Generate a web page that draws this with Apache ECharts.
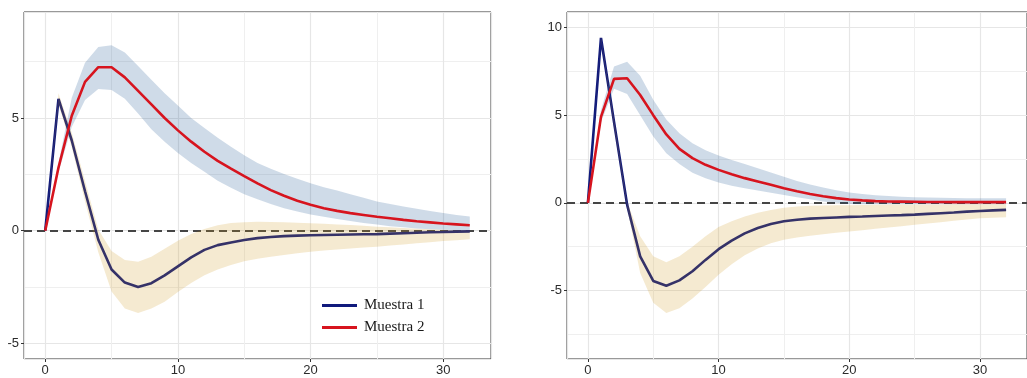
<!DOCTYPE html>
<html>
<head>
<meta charset="utf-8">
<script src="https://cdn.jsdelivr.net/npm/echarts@6/dist/echarts.min.js"></script>
<style>
  html, body { margin: 0; padding: 0; background: #ffffff; }
  #chart { width: 1027px; height: 378px; }
</style>
</head>
<body>
<div id="chart"></div>
<script>
// Horizons 0..32
const steps = [0,1,2,3,4,5,6,7,8,9,10,11,12,13,14,15,16,17,18,19,20,21,22,23,24,25,26,27,28,29,30,31,32];

// Left panel: impulse responses and bands
const m1Left   = [0,5.85,4.0,1.75,-0.4,-1.72,-2.3,-2.5,-2.33,-1.98,-1.58,-1.18,-0.85,-0.64,-0.52,-0.41,-0.33,-0.28,-0.24,-0.22,-0.2,-0.19,-0.18,-0.17,-0.16,-0.15,-0.13,-0.11,-0.09,-0.07,-0.06,-0.04,-0.03];
const m1LeftLo = [0,5.6,3.7,1.3,-0.95,-2.7,-3.45,-3.65,-3.45,-3.15,-2.72,-2.32,-1.98,-1.72,-1.52,-1.36,-1.24,-1.15,-1.08,-1.0,-0.93,-0.88,-0.83,-0.79,-0.75,-0.71,-0.66,-0.61,-0.56,-0.51,-0.46,-0.42,-0.38];
const m1LeftHi = [0,6.1,4.35,2.2,0.05,-0.9,-1.3,-1.38,-1.15,-0.8,-0.45,-0.15,0.08,0.24,0.34,0.38,0.4,0.39,0.37,0.35,0.33,0.31,0.28,0.25,0.22,0.18,0.15,0.12,0.09,0.06,0.04,0.03,0.03];
const m2Left   = [0,2.8,5.1,6.6,7.25,7.25,6.8,6.2,5.6,5.0,4.45,3.95,3.5,3.1,2.75,2.42,2.1,1.8,1.55,1.33,1.15,1.0,0.88,0.78,0.7,0.62,0.55,0.48,0.42,0.37,0.32,0.28,0.24];
const m2LeftLo = [0,2.6,4.6,5.8,6.28,6.24,5.85,5.2,4.5,3.95,3.45,3.0,2.62,2.22,1.9,1.62,1.4,1.18,1.0,0.85,0.72,0.62,0.52,0.43,0.34,0.27,0.2,0.15,0.1,0.07,0.04,0.03,0.03];
const m2LeftHi = [0,3.0,5.9,7.45,8.15,8.23,7.9,7.3,6.7,6.1,5.55,5.0,4.55,4.12,3.72,3.35,3.0,2.75,2.52,2.3,2.1,1.93,1.78,1.62,1.46,1.3,1.18,1.07,0.97,0.87,0.78,0.7,0.63];

// Right panel: impulse responses and bands
const m1Right   = [0,9.4,4.6,-0.1,-3.05,-4.45,-4.72,-4.42,-3.9,-3.25,-2.64,-2.15,-1.74,-1.43,-1.2,-1.05,-0.96,-0.9,-0.86,-0.83,-0.8,-0.78,-0.75,-0.72,-0.7,-0.67,-0.63,-0.59,-0.55,-0.5,-0.46,-0.43,-0.4];
const m1RightLo = [0,9.3,4.3,-0.3,-4.0,-5.7,-6.28,-6.0,-5.45,-4.8,-4.1,-3.5,-2.98,-2.6,-2.3,-2.1,-1.97,-1.87,-1.79,-1.71,-1.63,-1.56,-1.48,-1.4,-1.33,-1.25,-1.17,-1.1,-1.02,-0.95,-0.88,-0.85,-0.82];
const m1RightHi = [0,9.5,4.8,0.05,-1.9,-3.05,-3.38,-3.05,-2.5,-1.9,-1.38,-1.05,-0.78,-0.56,-0.4,-0.28,-0.21,-0.17,-0.15,-0.14,-0.13,-0.12,-0.11,-0.1,-0.1,-0.1,-0.09,-0.09,-0.08,-0.08,-0.08,-0.08,-0.08];
const m2Right   = [0,4.9,7.07,7.1,6.15,5.0,3.9,3.08,2.55,2.17,1.88,1.63,1.41,1.22,1.03,0.83,0.66,0.51,0.38,0.27,0.19,0.14,0.1,0.08,0.07,0.06,0.05,0.05,0.04,0.04,0.04,0.04,0.04];
const m2RightLo = [0,4.6,6.5,6.2,5.0,3.78,2.83,2.22,1.72,1.4,1.16,0.98,0.84,0.7,0.58,0.45,0.32,0.2,0.08,0.0,-0.06,-0.08,-0.08,-0.08,-0.08,-0.08,-0.08,-0.08,-0.08,-0.08,-0.08,-0.08,-0.08];
const m2RightHi = [0,5.3,7.78,8.05,7.25,5.88,4.75,3.97,3.4,3.0,2.7,2.45,2.22,1.97,1.73,1.49,1.25,1.05,0.87,0.72,0.59,0.5,0.44,0.39,0.35,0.32,0.3,0.29,0.28,0.27,0.27,0.27,0.27];

const seriesNames = ['Muestra 1', 'Muestra 2'];

const NAVY = '#101a7c';
const RED = '#d7141e';
const BAND_BLUE = 'rgba(15,75,140,0.2)';
const BAND_GOLD = 'rgba(205,150,25,0.2)';
const TICK_FONT = "'Liberation Sans', Arial, sans-serif";

const chart = echarts.init(document.getElementById('chart'), null, { renderer: 'canvas' });

// Confidence band drawn as a single polygon through the axis scales
function bandSeries(idx, lo, hi, color) {
  return {
    type: 'custom',
    xAxisIndex: idx,
    yAxisIndex: idx,
    z: 10,
    silent: true,
    clip: true,
    data: steps.map((s, i) => [s, lo[i], hi[i]]),
    encode: { x: 0, y: [1, 2] },
    renderItem: function (params, api) {
      if (params.dataIndex !== 0) return null;
      const upper = [], lower = [];
      for (let i = 0; i < steps.length; i++) {
        upper.push(api.coord([steps[i], hi[i]]));
        lower.push(api.coord([steps[i], lo[i]]));
      }
      return {
        type: 'polygon',
        shape: { points: upper.concat(lower.reverse()) },
        style: { fill: color, stroke: null }
      };
    }
  };
}

function lineSeries(idx, name, values, color, z, withZero) {
  const s = {
    type: 'line',
    name: name,
    xAxisIndex: idx,
    yAxisIndex: idx,
    z: z,
    data: steps.map((t, i) => [t, values[i]]),
    showSymbol: false,
    symbol: 'none',
    silent: true,
    lineStyle: { color: color, width: 2.6 },
    itemStyle: { color: color }
  };
  if (withZero) {
    s.markLine = {
      silent: true,
      symbol: 'none',
      z: 3,
      label: { show: false },
      lineStyle: { color: '#454545', width: 2.2, type: [8, 5] },
      data: [{ yAxis: 0 }]
    };
  }
  return s;
}

function axisCommon() {
  return {
    axisLine: { show: false, onZero: false },
    axisTick: { show: true, length: 3, lineStyle: { color: '#333' } },
    axisLabel: { showMinLabel: false, showMaxLabel: false, color: '#2b2b2b', fontSize: 13, fontFamily: TICK_FONT, margin: 5 },
    splitLine: { show: true, lineStyle: { color: '#e6e6e6', width: 1.2 } },
    minorTick: { show: false, splitNumber: 2 },
    minorSplitLine: { show: true, lineStyle: { color: '#efefef', width: 1 } }
  };
}

function xAxis(idx) {
  return Object.assign({ type: 'value', gridIndex: idx, min: -1.6, max: 33.6, splitNumber: 4 }, axisCommon());
}

function yAxis(idx, min, max, splitNumber) {
  return Object.assign({ type: 'value', gridIndex: idx, min: min, max: max, splitNumber: splitNumber }, axisCommon());
}

chart.setOption({
  animation: false,
  backgroundColor: '#ffffff',
  grid: [
    { left: 24, top: 12, width: 467, height: 347, show: true, borderColor: '#333333', borderWidth: 1, backgroundColor: 'transparent' },
    { left: 567, top: 12, width: 468, height: 347, show: true, borderColor: '#333333', borderWidth: 1, backgroundColor: 'transparent' }
  ],
  xAxis: [xAxis(0), xAxis(1)],
  yAxis: [yAxis(0, -5.69, 9.7, 3), yAxis(1, -8.9, 10.88, 4)],
  legend: {
    data: seriesNames,
    orient: 'vertical',
    left: 322,
    top: 298,
    padding: 0,
    itemWidth: 35,
    itemHeight: 3,
    itemGap: 7,
    icon: 'rect',
    selectedMode: false,
    textStyle: { fontFamily: "'Liberation Serif', 'Times New Roman', serif", fontSize: 15, color: '#1a1a1a', lineHeight: 15, padding: [0, 0, 0, 2] }
  },
  series: [
    lineSeries(0, seriesNames[0], m1Left, NAVY, 4, true),
    bandSeries(0, m1LeftLo, m1LeftHi, BAND_GOLD),
    bandSeries(0, m2LeftLo, m2LeftHi, BAND_BLUE),
    lineSeries(0, seriesNames[1], m2Left, RED, 12, false),

    lineSeries(1, seriesNames[0], m1Right, NAVY, 4, true),
    bandSeries(1, m1RightLo, m1RightHi, BAND_GOLD),
    bandSeries(1, m2RightLo, m2RightHi, BAND_BLUE),
    lineSeries(1, seriesNames[1], m2Right, RED, 12, false)
  ]
});
</script>
</body>
</html>
